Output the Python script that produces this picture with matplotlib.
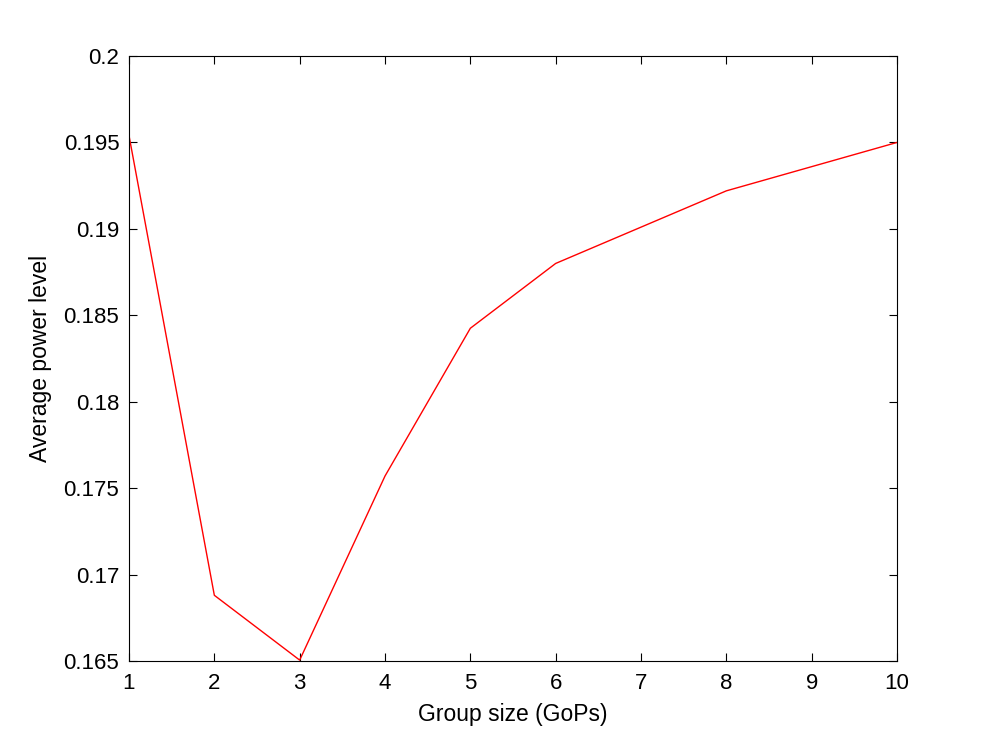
import matplotlib
matplotlib.use("Agg")
import matplotlib.pyplot as plt

# Average power level vs group size
group_size = [1, 2, 3, 4, 5, 6, 8, 10]
avg_power = [0.1954, 0.1688, 0.16505, 0.1757, 0.18425, 0.1880, 0.1922, 0.1950]
x_ticks = list(range(1, 11))
y_ticks = [0.165, 0.17, 0.175, 0.18, 0.185, 0.19, 0.195, 0.2]
y_labels = ["0.165", "0.17", "0.175", "0.18", "0.185", "0.19", "0.195", "0.2"]

plt.rcParams['font.family'] = ['Liberation Sans', 'DejaVu Sans']

fig = plt.figure(figsize=(9.9, 7.44), dpi=100)
ax = fig.add_axes([0.1303, 0.1116, 0.7758, 0.8131])

ax.plot(group_size, avg_power, color='red', linewidth=1.0)

ax.set_xlim(1, 10)
ax.set_ylim(0.165, 0.2)
ax.set_xticks(x_ticks)
ax.set_yticks(y_ticks)
ax.set_yticklabels(y_labels)
ax.tick_params(direction='in', top=True, right=True, labelsize=16, length=6, pad=7)
ax.tick_params(axis='x', pad=9)
for s in ax.spines.values():
    s.set_linewidth(0.8)

ax.set_xlabel("Group size (GoPs)", fontsize=16.5, labelpad=6)
ax.set_ylabel("Average power level", fontsize=16.5, labelpad=8)

fig.savefig("out.png", dpi=100)
